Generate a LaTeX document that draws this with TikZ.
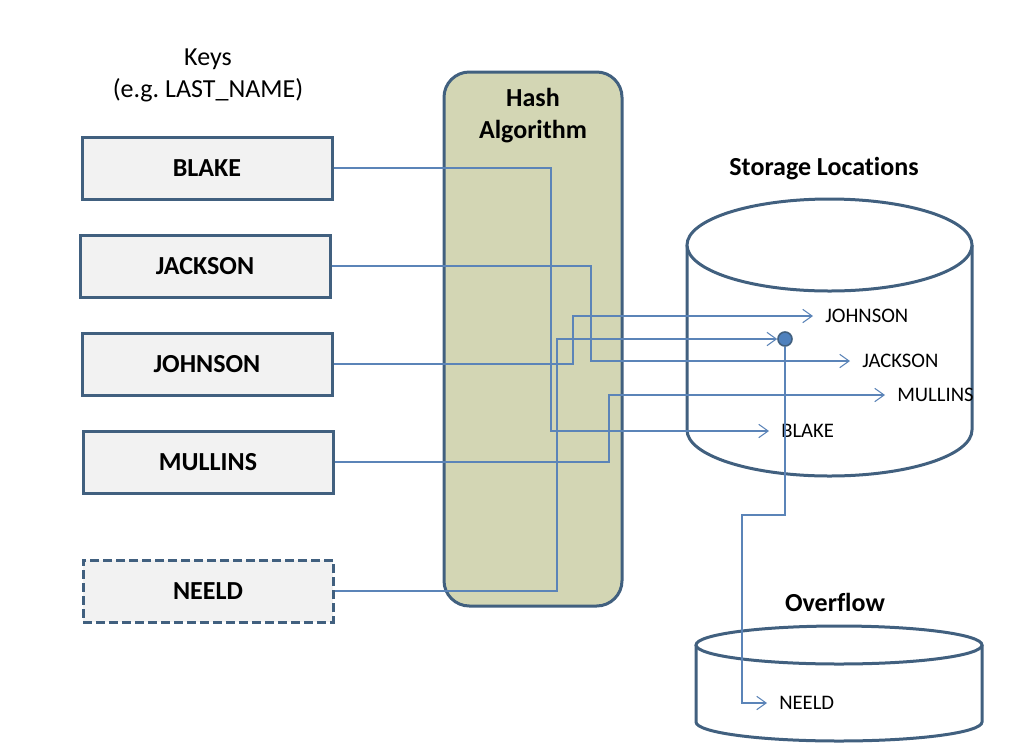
\documentclass[tikz,border=0pt]{standalone}
\usepackage{fontspec}
\setmainfont{Carlito}[Ligatures=NoCommon]
\usepackage{tikz}
\usetikzlibrary{arrows.meta}
\definecolor{frameblue}{HTML}{41607F}
\definecolor{linkblue}{HTML}{5B84B8}
\definecolor{hashfill}{HTML}{D3D6B4}
\definecolor{keyfill}{HTML}{F2F2F2}
\definecolor{dotblue}{HTML}{4F81BD}
\frenchspacing

\begin{document}
\begin{tikzpicture}[x=0.75pt,y=0.75pt,
        keybox/.style={draw=frameblue,fill=keyfill,line width=2.25pt,
            minimum width=187.5pt,minimum height=46.5pt,
            font=\fontsize{19.5}{24}\selectfont\bfseries},
        title/.style={font=\fontsize{19.5}{24}\selectfont\bfseries,align=center},
        slot/.style={anchor=west,inner xsep=9pt,inner ysep=0pt,
            font=\fontsize{15.5}{18}\selectfont},
        drum/.style={draw=frameblue,fill=white,line width=2.25pt},
        link/.style={draw=linkblue,line width=0.8pt},
        tip/.style={-{Straight Barb[length=7pt,width=10pt]}}]
                \useasboundingbox
                    (0,0) rectangle (1018,-751);
                \node[align=center,font=\fontsize{19.5}{24}\selectfont] (keys)
                    at (208,-75) {Keys\\(e.g. LAST\_NAME)};
                \node[keybox] (blake)
                    at (207,-168) {BLAKE};
                \node[keybox] (jackson)
                    at (205,-266) {JACKSON};
                \node[keybox] (johnson)
                    at (207,-364) {JOHNSON};
                \node[keybox] (mullins)
                    at (208,-462) {MULLINS};
                \node[keybox,dashed,dash pattern=on 6.75pt off 3pt] (neeld)
                    at (208,-591) {NEELD};
                \node[draw=frameblue,fill=hashfill,line width=2.25pt,rounded corners=19pt,
                    minimum width=133.5pt,minimum height=400.5pt] (hash)
                    at (533,-339) {};
                \node[title] (hashlbl)
                    at (533,-116) {Hash\\Algorithm};
                \node[title] (storelbl)
                    at (824,-169) {Storage Locations};
                \path[drum]
                    (687,-245) -- (687,-430) arc[start angle=180,end angle=360,x radius=142.5,y radius=46] -- (972,-245);
                \path[drum]
                    (829.5,-245) ellipse[x radius=142.5,y radius=46];
                \node[title] (overlbl)
                    at (835,-602) {Overflow};
                \path[drum]
                    (696,-645) -- (696,-722) arc[start angle=180,end angle=360,x radius=143,y radius=19] -- (982,-645);
                \path[drum]
                    (839,-645) ellipse[x radius=143,y radius=19];
                \node[slot] (sjohnson)
                    at (813,-316) {JOHNSON};
                \node[slot] (sjackson)
                    at (850,-361) {JACKSON};
                \node[slot] (smullins)
                    at (885,-395) {MULLINS};
                \node[slot] (sblake)
                    at (769,-431) {BLAKE};
                \node[slot] (oneeld)
                    at (767,-703) {NEELD};
                \coordinate (kblake) at (551,0);
                \coordinate (kjackson) at (591,0);
                \coordinate (kjohnson) at (573,0);
                \coordinate (kmullins) at (609,0);
                \coordinate (kneeld) at (557,0);
                \coordinate (drop) at (742,-515);
                \path[link,tip]
                    (blake.east) -| (kblake |- sblake.west) -- (sblake.west);
                \path[link,tip]
                    (jackson.east) -| (kjackson |- sjackson.west) -- (sjackson.west);
                \path[link,tip]
                    (johnson.east) -| (kjohnson |- sjohnson.west) -- (sjohnson.west);
                \path[link,tip]
                    (mullins.east) -| (kmullins |- smullins.west) -- (smullins.west);
                \node[circle,draw=frameblue,fill=dotblue,line width=1.2pt,
                    minimum size=10.5pt,inner sep=0pt] (dot)
                    at (785,-339) {};
                \path[link,tip]
                    (neeld.east) -| (kneeld |- dot.west) -- (dot.west);
                \path[link,tip]
                    (dot.south) |- (drop) |- (oneeld.west);
            \end{tikzpicture}
\end{document}
